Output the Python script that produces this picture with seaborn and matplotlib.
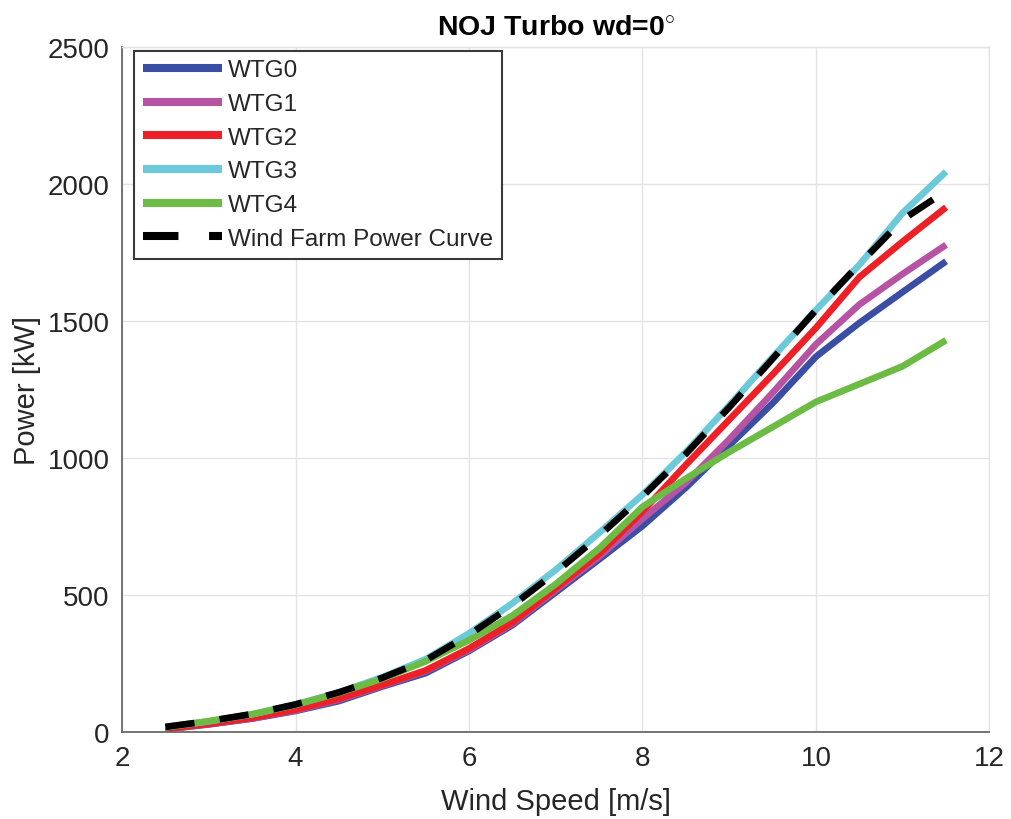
import numpy as np
import pandas as pd
import matplotlib
matplotlib.use("Agg")
import matplotlib.pyplot as plt
import seaborn as sns

wind_speed = [2.5, 3.0, 3.5, 4.0, 4.5, 5.0, 5.5, 6.0, 6.5, 7.0, 7.5, 8.0, 8.5, 9.0, 9.5, 10.0, 10.5, 11.0, 11.5]

wtg0 = [10, 28, 49, 77, 113, 166, 215, 296, 390, 510, 630, 752, 892, 1046, 1200, 1370, 1493, 1606, 1718]
wtg1 = [11, 29, 50, 79, 118, 169, 222, 300, 395, 518, 640, 778, 910, 1068, 1238, 1415, 1560, 1672, 1778]
wtg2 = [12, 30, 52, 82, 122, 172, 225, 305, 400, 525, 650, 805, 975, 1140, 1305, 1475, 1660, 1790, 1915]
wtg3 = [18, 39, 65, 100, 145, 200, 266, 360, 470, 592, 727, 866, 1022, 1192, 1368, 1540, 1705, 1895, 2045]
wtg4 = [18, 40, 65, 100, 143, 195, 258, 335, 425, 540, 670, 822, 925, 1022, 1113, 1205, 1270, 1335, 1430]
farm = [19, 40, 66, 101, 145, 198, 262, 355, 462, 583, 716, 860, 1015, 1185, 1362, 1540, 1708, 1870, 1975]

series_names = ["WTG0", "WTG1", "WTG2", "WTG3", "WTG4", "Wind Farm Power Curve"]
series_values = [wtg0, wtg1, wtg2, wtg3, wtg4, farm]
series_colors = ["#3a4fa3", "#b653a2", "#ee2027", "#6bc9da", "#6cbb45", "#000000"]

title = r"NOJ Turbo wd=0$^{\circ}$"
x_label = "Wind Speed [m/s]"
y_label = "Power [kW]"
x_ticks = [2, 4, 6, 8, 10, 12]
y_ticks = [0, 500, 1000, 1500, 2000, 2500]

sns.set_theme(style="white")
plt.rcParams["font.family"] = ["Liberation Sans", "DejaVu Sans"]
plt.rcParams["mathtext.fontset"] = "custom"
plt.rcParams["mathtext.rm"] = "Liberation Sans"
plt.rcParams["mathtext.it"] = "Liberation Sans:italic"
plt.rcParams["mathtext.bf"] = "Liberation Sans:bold"

fig = plt.figure(figsize=(10.11, 8.2), dpi=100)
ax = fig.add_axes([0.1207, 0.106, 0.858, 0.8355])

LW = 4.8
for name, vals, col in zip(series_names, series_values, series_colors):
    d = pd.DataFrame({"x": wind_speed, "y": vals})
    sns.lineplot(data=d, x="x", y="y", ax=ax, color=col, lw=LW, label=name,
                 solid_capstyle="butt")
    if name.startswith("Wind"):
        ax.lines[-1].set_dashes((4.4, 3.8))

ax.set_xlim(2, 12)
ax.set_ylim(0, 2500)
ax.set_xticks(x_ticks)
ax.set_yticks(y_ticks)
ax.grid(True, color="#e3e3e3", lw=1.0)
ax.set_axisbelow(True)

for s in ["top", "right"]:
    ax.spines[s].set_color("#e3e3e3")
    ax.spines[s].set_linewidth(1.0)
for s in ["left", "bottom"]:
    ax.spines[s].set_color("#6a6a6a")
    ax.spines[s].set_linewidth(1.3)

ax.tick_params(axis="both", direction="in", length=6, width=1.2,
               color="#6a6a6a", labelsize=20, labelcolor="#262626", pad=9)
ax.set_xlabel(x_label, fontsize=21, color="#262626", labelpad=12)
ax.set_ylabel(y_label, fontsize=21, color="#262626", labelpad=5)
ax.set_title(title, fontsize=20.5, fontweight="bold", color="#000000", pad=9)

leg = ax.legend(loc="upper left", bbox_to_anchor=(0.0138, 0.9946),
                fontsize=17.5, frameon=True, fancybox=False,
                framealpha=1, edgecolor="#3a3a3a", handlelength=3.25,
                handletextpad=0.27, labelspacing=0.48, borderpad=0.36,
                borderaxespad=0.0)
leg.get_frame().set_linewidth(1.5)
for t in leg.get_texts():
    t.set_color("#262626")
for h in leg.get_lines():
    h.set_linewidth(5.8)

fig.savefig("out.png", dpi=100, facecolor="white")
